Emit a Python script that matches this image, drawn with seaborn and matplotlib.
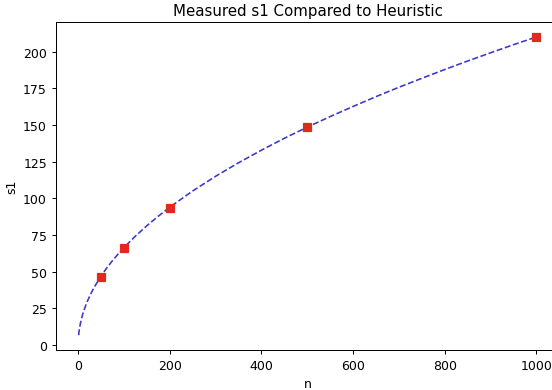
import matplotlib
matplotlib.use("Agg")
import matplotlib.pyplot as plt
import pandas as pd
import seaborn as sns

# heuristic curve
heurN = [1, 2, 3, 5, 7, 10, 15, 20, 27, 35, 50, 62, 75, 87, 100, 125, 150, 175, 200, 250, 300, 350, 400, 450, 500, 550, 600, 650, 700, 750, 800, 850, 900, 950, 1000]
heurS1 = [6.6, 9.4, 11.5, 14.8, 17.6, 21.0, 25.7, 29.7, 34.5, 39.3, 47.0, 52.3, 57.5, 61.9, 66.4, 74.2, 81.3, 87.8, 93.9, 105.0, 115.0, 124.2, 132.8, 140.9, 148.5, 155.7, 162.6, 169.3, 175.7, 181.8, 187.8, 193.6, 199.2, 204.7, 210.0]

# measured points
measN = [50, 100, 200, 500, 1000]
measS1 = [46, 66, 93.5, 148.5, 210]

heur = pd.DataFrame({"n": heurN, "s1": heurS1})
meas = pd.DataFrame({"n": measN, "s1": measS1})

# rendered a bit smaller than default, like the reference
fig, ax = plt.subplots(figsize=(552 / 90, 391 / 90), dpi=90)
plt.subplots_adjust(left=0.101, right=1.013, top=0.941, bottom=0.102)

sns.lineplot(data=heur, x="n", y="s1", ax=ax, color="#3a3acc", linestyle="--", linewidth=1.3)
ax.plot(meas["n"], meas["s1"], linestyle="none", marker="s", markersize=6.5,
        color="#e02a1f")

ax.set_title("Measured s1 Compared to Heuristic")
ax.set_xlabel("n")
ax.set_ylabel("s1")
ax.set_yticks(range(0, 201, 25))

fig.savefig("out.png", dpi=90)
